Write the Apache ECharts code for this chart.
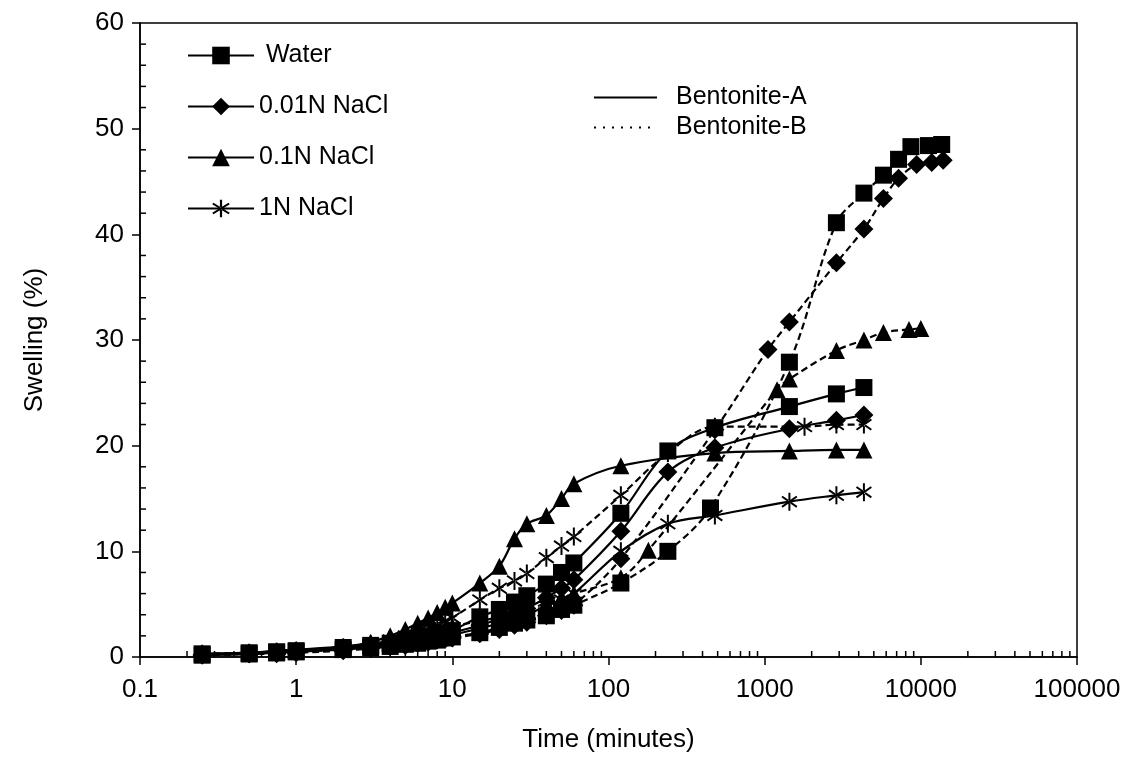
<!DOCTYPE html>
<html><head><meta charset="utf-8">
<script src="https://cdn.jsdelivr.net/npm/echarts@6/dist/echarts.min.js"></script>
<style>html,body{margin:0;padding:0;background:#fff}#c{width:1138px;height:758px}</style>
</head><body><div id="c"></div>
<script>
// ---- tick labels ----
const xTickLabels = ['0.1','1','10','100','1000','10000','100000'];
const legendSolutions = ['Water','0.01N NaCl','0.1N NaCl','1N NaCl'];
const legendBentonite = ['Bentonite-A','Bentonite-B'];

// ---- Water ----
const waterA_t = [0.25,0.5,0.75,1,2,3,4,5,6,7,8,9,10,15,20,25,30,40,50,60,120,240,480,1440,2880,4320];
const waterA_v = [0.3,0.4,0.5,0.6,0.9,1.1,1.3,1.5,1.7,1.9,2.1,2.3,2.5,3.8,4.5,5.2,5.8,6.9,8.0,8.9,13.6,19.5,21.7,23.7,24.9,25.5];
const waterB_t = [0.25,0.5,0.75,1,2,3,4,5,6,7,8,9,10,15,20,25,30,40,50,60,120,240,450,1440,2880,4320,5760,7200,8640,11200,13600];
const waterB_v = [0.2,0.3,0.4,0.5,0.7,0.9,1.0,1.2,1.3,1.5,1.6,1.8,1.9,2.3,2.8,3.2,3.5,3.9,4.5,4.9,7.0,10.0,14.1,27.9,41.1,43.9,45.6,47.1,48.3,48.4,48.5];

// ---- 0.01N NaCl ----
const n001A_t = [0.25,0.5,0.75,1,2,3,4,5,6,7,8,9,10,15,20,25,30,40,50,60,120,240,480,1440,2880,4320];
const n001A_v = [0.2,0.3,0.4,0.5,0.8,1.0,1.2,1.4,1.6,1.8,2.0,2.1,2.3,3.0,3.6,4.1,4.6,5.6,6.5,7.3,11.9,17.5,19.8,21.6,22.4,22.9];
const n001B_t = [0.25,0.5,0.75,1,2,3,4,5,6,7,8,9,10,15,20,25,30,40,50,60,120,480,1050,1440,2880,4320,5760,7200,9400,11750,13900];
const n001B_v = [0.2,0.3,0.3,0.4,0.6,0.8,1.0,1.1,1.3,1.4,1.6,1.7,1.8,2.2,2.6,3.0,3.3,3.9,4.4,4.9,9.3,21.5,29.1,31.7,37.3,40.5,43.4,45.3,46.6,46.8,47.0];

// ---- 0.1N NaCl ----
const n01A_t = [0.25,0.5,0.75,1,2,3,4,5,6,7,8,9,10,15,20,25,30,40,50,60,120,480,1440,2880,4320];
const n01A_v = [0.3,0.4,0.6,0.7,1.0,1.4,2.0,2.6,3.2,3.7,4.2,4.7,5.1,7.0,8.6,11.2,12.6,13.4,15.0,16.4,18.1,19.3,19.5,19.6,19.6];
const n01B_t = [0.25,0.5,0.75,1,2,3,4,5,6,7,8,9,10,15,20,25,30,40,50,60,120,180,1200,1440,2880,4320,5760,8400,10000];
const n01B_v = [0.2,0.3,0.4,0.5,0.8,1.1,1.4,1.7,2.0,2.2,2.5,2.7,2.9,3.4,3.8,4.2,4.5,5.1,5.6,6.0,7.5,10.1,25.3,26.3,29.0,30.0,30.7,31.0,31.1];

// ---- 1N NaCl ----
const n1A_t = [0.25,0.5,0.75,1,2,3,4,5,6,7,8,9,10,15,20,25,30,40,50,60,120,240,480,1440,2880,4320];
const n1A_v = [0.2,0.3,0.4,0.5,0.7,0.9,1.1,1.3,1.5,1.6,1.8,1.9,2.1,2.7,3.2,3.6,4.0,4.8,5.4,6.0,10.0,12.6,13.4,14.7,15.3,15.6];
const n1B_t = [0.25,0.5,0.75,1,2,3,4,5,6,7,8,9,10,15,20,25,30,40,50,60,120,240,480,1800,2880,4320];
const n1B_v = [0.3,0.4,0.5,0.6,0.9,1.2,1.6,2.0,2.4,2.8,3.1,3.4,3.7,5.4,6.5,7.2,7.9,9.4,10.5,11.4,15.3,19.3,21.8,21.8,22.0,22.0];

const FONT = 'Liberation Sans';
const ASTERISK = 'path://M-1.1,-10L1.1,-10L1.1,10L-1.1,10Z M7.56,6.64L8.82,4.84L-7.56,-6.64L-8.82,-4.84Z M-7.56,6.64L-8.82,4.84L7.56,-6.64L8.82,-4.84Z';

function pairs(t, v) { return t.map((x, i) => [x, v[i]]); }
function mk(name, t, v, symbol, size, dashed) {
  return {
    type: 'line', name: name, data: pairs(t, v),
    symbol: symbol, symbolSize: size, smooth: 0.35,
    lineStyle: { color: '#000', width: 2.2, type: dashed ? [7, 4] : 'solid' },
    itemStyle: { color: '#000' },
    emphasis: { disabled: true }, animation: false, z: dashed ? 3 : 4
  };
}

const series = [
  mk('Water', waterA_t, waterA_v, 'rect', 17, false),
  mk('0.01N NaCl', n001A_t, n001A_v, 'diamond', 19, false),
  mk('0.1N NaCl', n01A_t, n01A_v, 'triangle', 17, false),
  mk('1N NaCl', n1A_t, n1A_v, ASTERISK, [16, 18], false),
  mk('Water', waterB_t, waterB_v, 'rect', 17, true),
  mk('0.01N NaCl', n001B_t, n001B_v, 'diamond', 19, true),
  mk('0.1N NaCl', n01B_t, n01B_v, 'triangle', 17, true),
  mk('1N NaCl', n1B_t, n1B_v, ASTERISK, [16, 18], true),
  { type: 'line', name: 'Bentonite-A', data: [], symbol: 'circle', symbolSize: 0,
    itemStyle: { color: 'rgba(0,0,0,0)' }, lineStyle: { color: '#000', width: 1.5, type: 'solid' } },
  { type: 'line', name: 'Bentonite-B', data: [], symbol: 'circle', symbolSize: 0,
    itemStyle: { color: 'rgba(0,0,0,0)' }, lineStyle: { color: '#000', width: 2, type: [2, 7] } }
];

const chart = echarts.init(document.getElementById('c'), null, { renderer: 'canvas' });
const option = {
  backgroundColor: '#fff',
  animation: false,
  textStyle: { fontFamily: FONT, color: '#000' },
  grid: { left: 140, right: 61, top: 23, bottom: 100, show: true, borderColor: '#000', borderWidth: 1.5, backgroundColor: 'transparent' },
  legend: [
    { data: legendSolutions, orient: 'vertical', left: 182, top: 38, itemWidth: 66, itemHeight: 22, itemGap: 26,
      textStyle: { fontSize: 25, color: '#000', fontFamily: FONT },
      formatter: n => (n === 'Water' ? ' Water' : n), selectedMode: false },
    { data: legendBentonite, orient: 'vertical', left: 588, top: 80, itemWidth: 63, itemHeight: 20, itemGap: 5,
      textStyle: { fontSize: 25, color: '#000', fontFamily: FONT, padding: [0, 0, 0, 14] }, selectedMode: false }
  ],
  xAxis: {
    type: 'log', logBase: 10, min: 0.1, max: 100000,
    name: 'Time (minutes)', nameLocation: 'middle', nameGap: 70,
    nameTextStyle: { fontSize: 26, color: '#000', fontFamily: FONT },
    axisLine: { onZero: false, lineStyle: { color: '#000', width: 1.5 } },
    axisTick: { inside: false, length: 8, lineStyle: { color: '#000', width: 1.5 } },
    axisLabel: { fontSize: 26, color: '#000', fontFamily: FONT, margin: 20,
      formatter: v => xTickLabels[Math.round(Math.log10(v)) + 1] },
    splitLine: { show: false }, minorTick: { show: false }
  },
  yAxis: {
    type: 'value', min: 0, max: 60, interval: 10,
    name: 'Swelling (%)', nameLocation: 'middle', nameGap: 92, nameRotate: 90,
    nameTextStyle: { fontSize: 26, color: '#000', fontFamily: FONT },
    axisLine: { lineStyle: { color: '#000', width: 1.5 } },
    axisTick: { inside: false, length: 8, lineStyle: { color: '#000', width: 1.5 } },
    axisLabel: { fontSize: 26, color: '#000', fontFamily: FONT, margin: 16 },
    splitLine: { show: false }
  },
  series: series
};
chart.setOption(option);

// minor ticks (inside), positioned through the axes' own scales
const gr = [];
const y0 = chart.convertToPixel({ yAxisIndex: 0 }, 0);
const x0 = chart.convertToPixel({ xAxisIndex: 0 }, 0.1);
for (let k = -1; k <= 4; k++) {
  for (let m = 2; m <= 9; m++) {
    const x = chart.convertToPixel({ xAxisIndex: 0 }, m * Math.pow(10, k));
    gr.push({ type: 'line', shape: { x1: x, y1: y0, x2: x, y2: y0 - 6 }, style: { stroke: '#000', lineWidth: 1.5 }, silent: true });
  }
}
for (let v = 2; v < 60; v += 2) {
  if (v % 10 === 0) continue;
  const y = chart.convertToPixel({ yAxisIndex: 0 }, v);
  gr.push({ type: 'line', shape: { x1: x0, y1: y, x2: x0 + 6, y2: y }, style: { stroke: '#000', lineWidth: 1.5 }, silent: true });
}
chart.setOption({ graphic: gr });
</script>
</body></html>
